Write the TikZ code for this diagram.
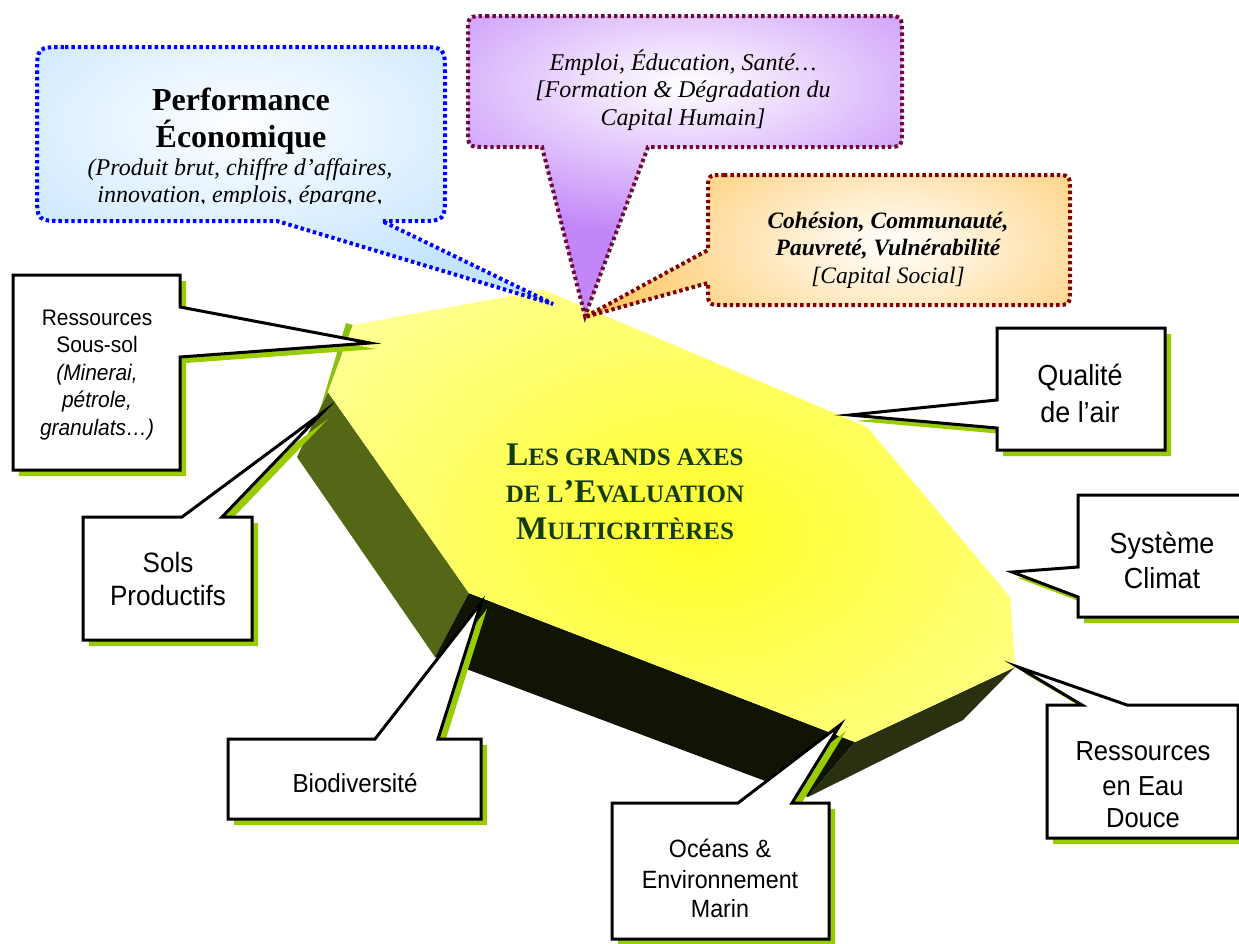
\documentclass[tikz,border=0pt]{standalone}
\usepackage{fontspec}
\setmainfont{Liberation Serif}
\setsansfont{Liberation Sans}[FakeStretch=0.93]
\definecolor{shadowgreen}{RGB}{153,204,0}
\definecolor{oliveface}{RGB}{84,103,23}
\definecolor{darkface}{RGB}{16,20,5}
\definecolor{rightface}{RGB}{42,49,16}
\definecolor{stripgreen}{RGB}{140,190,20}
\definecolor{paleyellow}{RGB}{255,255,153}
\definecolor{brightyellow}{RGB}{255,255,40}
\definecolor{titlegreen}{RGB}{20,60,10}
\definecolor{bubbleblue}{RGB}{196,228,255}
\definecolor{bubblepurple}{RGB}{194,134,248}
\definecolor{bubbleorange}{RGB}{255,200,100}
\definecolor{purpleborder}{RGB}{110,10,60}
\definecolor{orangeborder}{RGB}{128,0,0}
\newcommand\fsz[1]{\fontsize{#1}{#1}\selectfont}
\newcommand\bigc[1]{{\fsz{33}#1}}
\newcommand\smc[1]{{\fsz{25}#1}}
\newcommand\bluebubble[1]{\path[#1] (65,47) -- (417,47) .. controls (445,47) .. (445,75) -- (445,193) .. controls (445,221) .. (417,221) -- (382,221) -- (553,304) -- (277,221) -- (65,221) .. controls (37,221) .. (37,193) -- (37,75) .. controls (37,47) .. (65,47) -- cycle;}
\newcommand\purplebubble[1]{\path[#1] (486,16) -- (884,16) .. controls (902,16) .. (902,34) -- (902,129) .. controls (902,147) .. (884,147) -- (648,147) -- (585,316) -- (542,147) -- (486,147) .. controls (468,147) .. (468,129) -- (468,34) .. controls (468,16) .. (486,16) -- cycle;}
\newcommand\orangebubble[1]{\path[#1] (724,175) -- (1054,175) .. controls (1070,175) .. (1070,191) -- (1070,289) .. controls (1070,305) .. (1054,305) -- (724,305) .. controls (708,305) .. (708,289) -- (708,283) -- (585,317) -- (708,250) -- (708,191) .. controls (708,175) .. (724,175) -- cycle;}
\newcommand\callout[1]{\fill[shadowgreen, shift={(6,6)}] #1; \draw[boxborder] #1;}
\begin{document}
\begin{tikzpicture}[x=1pt,y=-1pt,
  dotborder/.style={line width=4pt, dash pattern=on 3.4pt off 3pt},
  boxborder/.style={draw=black, line width=3pt, fill=white, line join=miter, miter limit=25},
  lbl/.style={anchor=base, inner sep=0pt, align=center},
  title/.style={lbl, text=titlegreen, font=\bfseries},
  sans/.style={lbl, font=\sffamily\fsz{#1}},
  sansit/.style={lbl, font=\sffamily\itshape\fsz{#1}}]
\useasboundingbox (0,0) rectangle (1239,943);

% ---- octagon slab ----
\fill[oliveface] (328,392) -- (469,593) -- (435,657) -- (297,457) -- cycle;
\fill[darkface] (469,593) -- (855,742) -- (808,797) -- (469,670) -- (435,657) -- cycle;
\fill[rightface] (855,742) -- (1015,667) -- (963,720) -- (808,797) -- cycle;
\fill[stripgreen] (353,325) -- (328,392) -- (321,406) -- (346,323) -- cycle;
\begin{scope}
  \clip (353,325) -- (544,290) -- (867,427) -- (1010,597) -- (1015,667) -- (855,742) -- (469,593) -- (328,392) -- cycle;
  \fill[paleyellow] (0,0) rectangle (1239,943);
  \shade[inner color=brightyellow, outer color=paleyellow] (700,535) ellipse [x radius=480pt, y radius=330pt];
\end{scope}
\node[title] (t1) at (625,465) {\bigc{L}\smc{ES GRANDS AXES}};
\node[title] (t2) at (625,502) {\smc{DE L}\bigc{’E}\smc{VALUATION}};
\node[title] (t3) at (625,539) {\bigc{M}\smc{ULTICRITÈRES}};

% ---- blue bubble ----
\begin{scope}
  \bluebubble{clip}
  \fill[bubbleblue] (0,0) rectangle (1239,943);
  \shade[inner color=white, outer color=bubbleblue] (241,125) ellipse [x radius=330pt, y radius=170pt];
\end{scope}
\bluebubble{draw=blue, dotborder}
\node[lbl, font=\fsz{32}\bfseries] (perf) at (241,110) {Performance};
\node[lbl, font=\fsz{32}\bfseries] (eco) at (241,147) {Économique};
\begin{scope}
  \clip (37,47) rectangle (445,203);
  \node[lbl, font=\fsz{24}\itshape] (prod) at (240,175) {(Produit brut, chiffre d’affaires,};
  \node[lbl, font=\fsz{24}\itshape] (innov) at (240,202) {innovation, emplois, épargne,};
\end{scope}

% ---- purple bubble ----
\begin{scope}
  \purplebubble{clip}
  \fill[bubblepurple] (0,0) rectangle (1239,943);
  \shade[inner color=white, outer color=bubblepurple] (685,85) ellipse [x radius=360pt, y radius=150pt];
\end{scope}
\purplebubble{draw=purpleborder, dotborder}
\node[lbl, font=\fsz{24}\itshape] (emp) at (683,70) {Emploi, Éducation, Santé…};
\node[lbl, font=\fsz{24}\itshape] (form) at (683,97) {[Formation \& Dégradation du};
\node[lbl, font=\fsz{24}\itshape] (caph) at (683,125) {Capital Humain]};

% ---- orange bubble ----
\begin{scope}
  \orangebubble{clip}
  \fill[bubbleorange] (0,0) rectangle (1239,943);
  \shade[inner color=white, outer color=bubbleorange] (890,245) ellipse [x radius=300pt, y radius=150pt];
\end{scope}
\orangebubble{draw=orangeborder, dotborder}
\node[lbl, font=\fsz{23.5}\bfseries\itshape] (coh) at (888,228) {Cohésion, Communauté,};
\node[lbl, font=\fsz{23.5}\bfseries\itshape] (pauv) at (888,255) {Pauvreté, Vulnérabilité};
\node[lbl, font=\fsz{23.5}\itshape] (caps) at (888,283) {[Capital Social]};

% ---- rectangular callouts ----
\callout{(13,275) -- (180,275) -- (180,307) -- (370,343) -- (180,357) -- (180,470) -- (13,470) -- cycle}
\node[sans=22.5] (r1) at (97,325) {Ressources};
\node[sans=22.5] (r2) at (97,352) {Sous-sol};
\node[sansit=22.5] (r3) at (97,380) {(Minerai,};
\node[sansit=22.5] (r4) at (97,407) {pétrole,};
\node[sansit=22.5] (r5) at (97,435) {granulats…)};

\callout{(83,517) -- (182,517) -- (322,413) -- (222,517) -- (252,517) -- (252,640) -- (83,640) -- cycle}
\node[sans=28] (s1) at (168,572) {Sols};
\node[sans=28] (s2) at (168,605) {Productifs};

\callout{(997,328) -- (1165,328) -- (1165,450) -- (997,450) -- (997,428) -- (850,415) -- (997,400) -- cycle}
\node[sans=29] (q1) at (1080,385) {Qualité};
\node[sans=29] (q2) at (1080,422) {de l’air};

\callout{(1078,495) -- (1252,495) -- (1252,617) -- (1078,617) -- (1078,597) -- (1012,572) -- (1078,567) -- cycle}
\node[sans=29] (c1) at (1162,553) {Système};
\node[sans=29] (c2) at (1162,588) {Climat};

\callout{(1047,705) -- (1082,705) -- (1018,667) -- (1127,705) -- (1238,705) -- (1238,838) -- (1047,838) -- cycle}
\node[sans=27.5] (e1) at (1143,760) {Ressources};
\node[sans=27.5] (e2) at (1143,795) {en Eau};
\node[sans=27.5] (e3) at (1143,827) {Douce};

\callout{(228,739) -- (375,739) -- (481,603) -- (438,739) -- (481,739) -- (481,819) -- (228,819) -- cycle}
\node[sans=26] (b1) at (355,792) {Biodiversité};

\callout{(612,803) -- (738,803) -- (840,725) -- (792,803) -- (829,803) -- (829,939) -- (612,939) -- cycle}
\node[sans=25] (o1) at (720,857) {Océans \&};
\node[sans=25] (o2) at (720,888) {Environnement};
\node[sans=25] (o3) at (720,917) {Marin};
\end{tikzpicture}
\end{document}
